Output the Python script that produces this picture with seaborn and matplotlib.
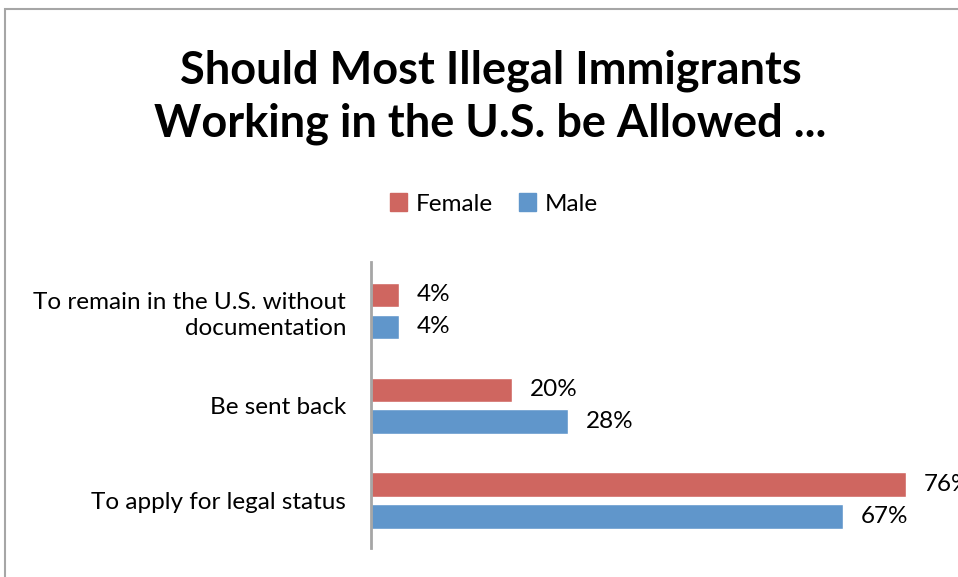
import matplotlib
matplotlib.use("Agg")
import matplotlib.pyplot as plt
import seaborn as sns
import pandas as pd
from matplotlib.patches import Rectangle

categories = ["To remain in the U.S. without\ndocumentation", "Be sent back", "To apply for legal status"]
female = [4, 20, 76]
male = [4, 28, 67]
series = ["Female", "Male"]
colors = ["#CF6660", "#6096CB"]
title = "Should Most Illegal Immigrants\nWorking in the U.S. be Allowed ..."

df = pd.DataFrame({
    "category": categories * 2,
    "value": female + male,
    "gender": ["Female"] * 3 + ["Male"] * 3,
})

sns.set_theme(style="white")
plt.rcParams["font.family"] = ["Lato", "DejaVu Sans"]
plt.rcParams["text.color"] = "black"
plt.rcParams["ytick.color"] = "black"

fig = plt.figure(figsize=(9.58, 5.77), dpi=100)
ax = fig.add_axes([371 / 958, 29 / 577, 587 / 958, 286 / 577])

sns.barplot(data=df, x="value", y="category", hue="gender", order=categories,
            hue_order=series, palette=colors, width=0.674, gap=0.234,
            orient="h", ax=ax, legend=False, saturation=1)

ax.set_xlim(0, 587 / 7.04)
ax.set_ylim(2.5, -0.516)
ax.set_xlabel("")
ax.set_ylabel("")
ax.set_xticks([])
for s in ["top", "right", "bottom"]:
    ax.spines[s].set_visible(False)
ax.spines["left"].set_color("#A6A6A6")
ax.spines["left"].set_linewidth(2)
ax.tick_params(axis="y", length=0, pad=18, labelsize=17.5, labelcolor="black")
for lbl in ax.get_yticklabels():
    lbl.set_horizontalalignment("right")
    lbl.set_multialignment("right")
    lbl.set_linespacing(1.3)

for cont in ax.containers:
    ax.bar_label(cont, labels=[f"{v:.0f}%" for v in cont.datavalues],
                 padding=13, fontsize=17.5, color="black")

fig.text(0.512, 0.831, title, ha="center", va="center", fontsize=32.5,
         fontweight="bold", linespacing=1.32, color="black")

handles = [Rectangle((0, 0), 1, 1, color=c) for c in colors]
fig.legend(handles, series, loc="center", bbox_to_anchor=(494 / 958, 1 - 204 / 577),
           ncol=2, frameon=False, fontsize=17.5, handlelength=0.7, handleheight=0.7,
           handletextpad=0.35, columnspacing=1.1)

fig.add_artist(Rectangle((5 / 958, -0.1), 1.2, 1 - 9 / 577 + 0.1, transform=fig.transFigure,
                         fill=False, edgecolor="#A6A6A6", linewidth=1.5))

fig.savefig("out.png", dpi=100)
